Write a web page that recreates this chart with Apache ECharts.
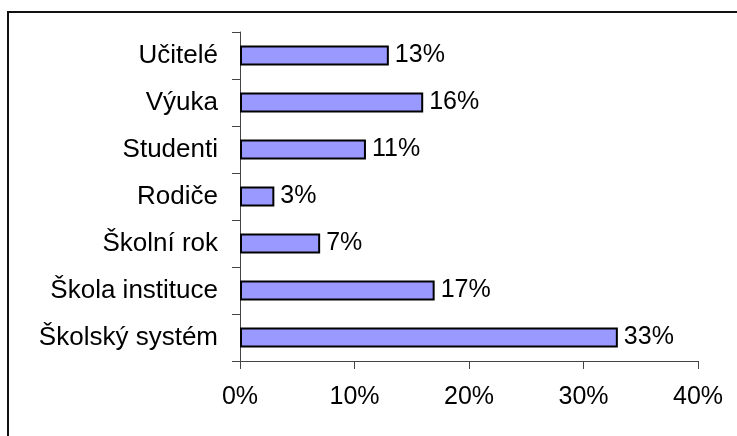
<!DOCTYPE html>
<html>
<head>
<meta charset="utf-8">
<script src="https://cdn.jsdelivr.net/npm/echarts@6/dist/echarts.min.js"></script>
<style>
  html, body { margin: 0; padding: 0; background: #fff; }
  #chart { width: 737px; height: 436px; }
</style>
</head>
<body>
<div id="chart"></div>
<script>
const categories = ["Učitelé", "Výuka", "Studenti", "Rodiče", "Školní rok", "Škola instituce", "Školský systém"];
const values = [13, 16, 11, 3, 7, 17, 33];
const xTicks = [0, 10, 20, 30, 40];

const chart = echarts.init(document.getElementById("chart"));

const font = "Liberation Sans, Arial, sans-serif";

const option = {
  animation: false,
  backgroundColor: "#ffffff",
  graphic: [
    {
      type: "rect",
      shape: { x: 8, y: 12, width: 900, height: 600 },
      style: { fill: "none", stroke: "#111", lineWidth: 2 },
      silent: true,
    },
  ],
  grid: {
    left: 240,
    right: 39,
    top: 32,
    bottom: 75,
  },
  xAxis: {
    type: "value",
    min: xTicks[0],
    max: xTicks[xTicks.length - 1],
    interval: 10,
    axisLine: { show: true, lineStyle: { color: "#444", width: 1 } },
    axisTick: { show: true, length: 8, lineStyle: { color: "#444" } },
    splitLine: { show: false },
    axisLabel: {
      color: "#000",
      fontFamily: font,
      fontSize: 25,
      margin: 24,
      formatter: (v) => `${v}%`,
    },
  },
  yAxis: {
    type: "category",
    data: categories,
    inverse: true,
    axisLine: { show: true, lineStyle: { color: "#444", width: 1 } },
    axisTick: { show: true, length: 8, lineStyle: { color: "#444" } },
    axisLabel: {
      color: "#000",
      fontFamily: font,
      fontSize: 26,
      margin: 22,
    },
  },
  series: [
    {
      type: "bar",
      data: values,
      barWidth: 20,
      itemStyle: {
        color: "#9999ff",
        borderColor: "#000",
        borderWidth: 2,
      },
      label: {
        show: true,
        position: "right",
        distance: 6,
        color: "#000",
        fontFamily: font,
        fontSize: 25,
        formatter: (p) => `${p.value}%`,
      },
    },
  ],
};

chart.setOption(option);
</script>
</body>
</html>
